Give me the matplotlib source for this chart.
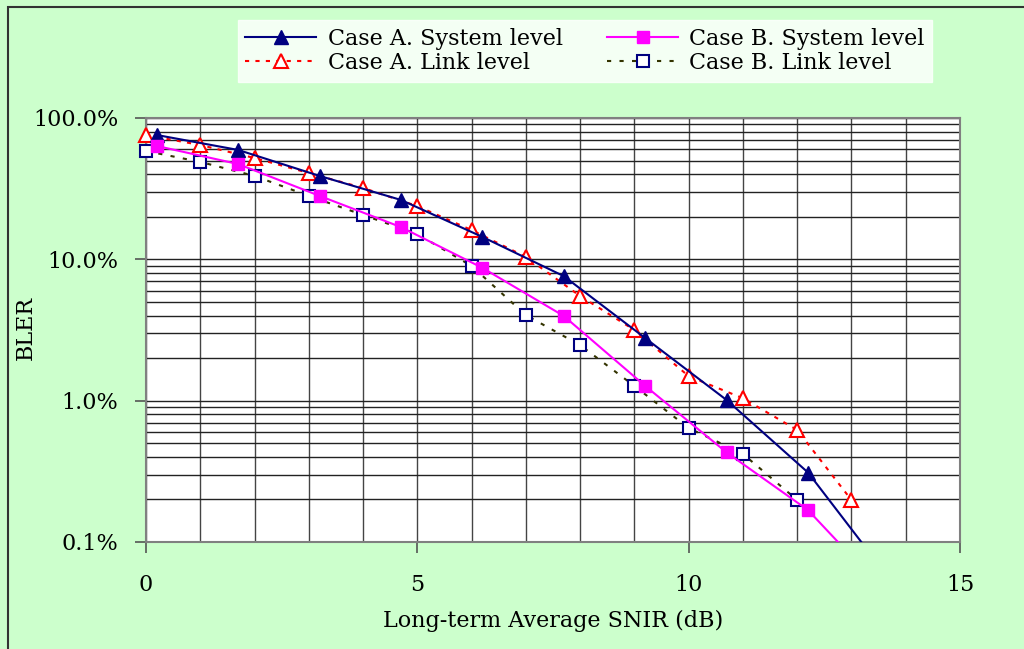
import matplotlib
matplotlib.use("Agg")
import matplotlib.pyplot as plt
from matplotlib.ticker import FixedLocator, FuncFormatter, MultipleLocator, NullFormatter
from matplotlib.patches import Rectangle
from matplotlib.lines import Line2D

# Data (BLER in %)
x_sys = [0.2, 1.7, 3.2, 4.7, 6.2, 7.7, 9.2, 10.7, 12.2, 13.7]
a_sys = [75.8, 59.4, 38.9, 26.3, 14.4, 7.6, 2.77, 1.01, 0.31, 0.055]
b_sys = [63.4, 47.2, 28.1, 16.9, 8.7, 3.97, 1.27, 0.43, 0.168, 0.041]

x_link_a = [0, 1, 2, 3, 4, 5, 6, 7, 8, 9, 10, 11, 12, 13]
a_link = [75.8, 64.4, 52.1, 40.8, 32.0, 23.8, 16.1, 10.4, 5.5, 3.16, 1.49, 1.04, 0.62, 0.198]

x_link_b = [0, 1, 2, 3, 4, 5, 6, 7, 8, 9, 10, 11, 12]
b_link = [58.4, 48.9, 38.9, 28.1, 20.6, 15.1, 8.97, 4.03, 2.47, 1.27, 0.64, 0.42, 0.198]

labels = ["Case A. System level", "Case A. Link level",
          "Case B. System level", "Case B. Link level"]
x_ticks = [0, 5, 10, 15]
y_ticks = [0.1, 1, 10, 100]

plt.rcParams['font.family'] = ['DejaVu Serif']

W, H = 1024, 649
fig = plt.figure(figsize=(W / 100, H / 100), dpi=100)
fig.patch.set_facecolor('#CCFFCC')
fig.patches.append(Rectangle((8 / W, -0.1), 1.2, 1 - 7 / H + 0.1, transform=fig.transFigure,
                             fill=False, edgecolor='#333333', lw=1.5))

ax = fig.add_axes([146 / W, 1 - 542 / H, (960 - 146) / W, (542 - 118) / H])
ax.set_facecolor('white')
ax.set_yscale('log')
ax.set_xlim(0, 15)
ax.set_ylim(0.1, 100)

ax.xaxis.set_major_locator(FixedLocator(x_ticks))
ax.xaxis.set_minor_locator(MultipleLocator(1))
ax.yaxis.set_major_locator(FixedLocator(y_ticks))
ax.yaxis.set_minor_formatter(NullFormatter())
ax.yaxis.set_major_formatter(FuncFormatter(lambda v, p: f"{v:.1f}%"))

ax.grid(True, which='both', axis='x', color='#444444', lw=1.0)
ax.grid(True, which='both', axis='y', color='#222222', lw=1.0)
ax.set_axisbelow(True)

for s in ax.spines.values():
    s.set_color('#808080')
    s.set_linewidth(1.5)

ax.tick_params(axis='both', which='major', length=8, width=1.2, color='#555555',
               labelsize=16)
ax.tick_params(axis='both', which='minor', length=0)
ax.tick_params(axis='y', pad=12)
ax.tick_params(axis='x', pad=15)

styles = [
    dict(color='#000080', lw=1.5, ls='-', marker='^', ms=10, markerfacecolor='#000080',
         markeredgecolor='#000080', markeredgewidth=1.0),
    dict(color='#FF0000', lw=1.5, ls=(0, (2, 3)), marker='^', ms=10,
         markerfacecolor='white', markeredgecolor='#FF0000', markeredgewidth=1.5),
    dict(color='#FF00FF', lw=1.5, ls='-', marker='s', ms=9, markerfacecolor='#FF00FF',
         markeredgecolor='#FF00FF', markeredgewidth=1.0),
    dict(color='#333300', lw=1.5, ls=(0, (2, 4)), marker='s', ms=9,
         markerfacecolor='white', markeredgecolor='#000080', markeredgewidth=1.5),
]
series = [(x_sys, a_sys, 5), (x_link_a, a_link, 4), (x_sys, b_sys, 5), (x_link_b, b_link, 4)]

for (xs, ys, z), st in zip(series, styles):
    # line clipped to the plot area
    ax.plot(xs, ys, color=st['color'], lw=st['lw'], ls=st['ls'], zorder=z)
    # markers (unclipped so edge markers show fully); only those inside the value range
    mx = [xv for xv, yv in zip(xs, ys) if yv >= 0.1]
    my = [yv for yv in ys if yv >= 0.1]
    ax.plot(mx, my, ls='none', marker=st['marker'], ms=st['ms'],
            markerfacecolor=st['markerfacecolor'], markeredgecolor=st['markeredgecolor'],
            markeredgewidth=st['markeredgewidth'], zorder=z + 0.5, clip_on=False)

ax.set_xlabel("Long-term Average SNIR (dB)", fontsize=16, labelpad=10)
ax.set_ylabel("BLER", fontsize=16)
ax.yaxis.set_label_coords((37 - 146) / 814, (542 - 328) / 424)

handles = [Line2D([], [], **st) for st in styles]
leg = fig.legend(handles=handles, labels=labels, ncol=2, loc='center',
                 bbox_to_anchor=((238 + 932) / 2 / W, 1 - 51 / H),
                 frameon=True, fancybox=False, fontsize=16, handlelength=3.2,
                 columnspacing=2.0, labelspacing=0.1, borderpad=0.35, handletextpad=0.5)
leg.get_frame().set_facecolor('white')
leg.get_frame().set_edgecolor('white')

fig.savefig("out.png", dpi=100, facecolor=fig.get_facecolor())
